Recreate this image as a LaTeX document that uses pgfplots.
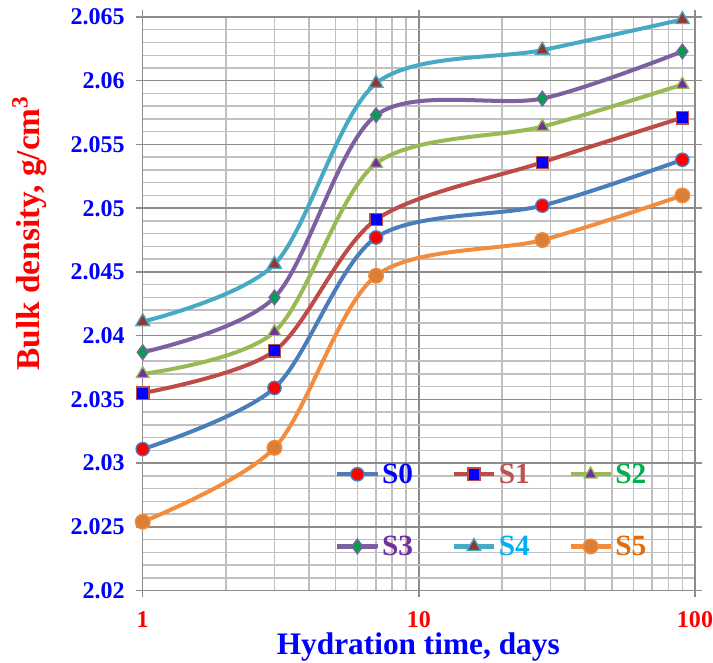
\documentclass[border=0pt]{standalone}
\usepackage{pgfplots}
\pgfplotsset{compat=1.18}
\usepackage{fontspec}
\setmainfont{Liberation Serif}
\definecolor{lS0}{HTML}{4A7EBB}
\definecolor{lS1}{HTML}{BE4B48}
\definecolor{lS2}{HTML}{98B954}
\definecolor{lS3}{HTML}{7D60A0}
\definecolor{lS4}{HTML}{46AAC5}
\definecolor{lS5}{HTML}{F38D3D}
\definecolor{mS3}{HTML}{00A050}
\definecolor{mS4}{HTML}{943634}
\definecolor{mS2}{HTML}{7030A0}
\definecolor{tS1}{HTML}{C0504D}
\definecolor{tS2}{HTML}{00B050}
\definecolor{tS3}{HTML}{7030A0}
\definecolor{tS4}{HTML}{00B0F0}
\definecolor{tS5}{HTML}{E46C0A}
\definecolor{majg}{HTML}{8C8C8C}
\definecolor{ming}{HTML}{BFBFBF}
\begin{document}
\begin{tikzpicture}
\useasboundingbox (-107pt,-54pt) rectangle (427.5pt,442.75pt);
\begin{axis}[
  at={(0,0)}, anchor=south west,
  scale only axis, width=414pt, height=430pt,
  xmode=log, log basis x=10,
  xmin=1, xmax=100, ymin=2.02, ymax=2.065,
  xtick={1,10,100}, xticklabels={1,10,100},
  minor xtick={2,3,4,5,6,7,8,9,20,30,40,50,60,70,80,90},
  ytick={2.02,2.025,2.03,2.035,2.04,2.045,2.05,2.055,2.06,2.065},
  yticklabels={2.02,2.025,2.03,2.035,2.04,2.045,2.05,2.055,2.06,2.065},
  minor y tick num=4,
  grid=both,
  major grid style={draw=majg, line width=1.1pt},
  minor grid style={draw=ming, line width=1.1pt},
  axis line style={draw=majg, line width=1.1pt},
  tick align=outside, major tick length=5pt, minor tick length=0pt,
  tick style={draw=majg, line width=1.1pt},
  /pgf/number format/assume math mode=true,
  tick label style={font=\bfseries\fontsize{18}{18}\selectfont},
  yticklabel style={text=blue, xshift=-5pt},
  xticklabel style={text=red, yshift=-7pt},
  xlabel={Hydration time, days},
  ylabel={Bulk density, g/cm\textsuperscript{3}},
  xlabel style={font=\bfseries\fontsize{23.5}{23.5}\selectfont, text=blue, at={(axis description cs:0.499,-0.099)}, anchor=center, inner sep=0pt},
  ylabel style={font=\bfseries\fontsize{25}{25}\selectfont, text=red, at={(axis description cs:-0.205,0.623)}, anchor=center},
  clip=false,
  every axis plot/.append style={smooth, tension=0.5, line width=3pt},
  legend columns=3,
  legend cell align=left,
  legend image code/.code={\draw[line width=3.2pt] (0pt,0pt) -- (30pt,0pt); \draw[mark repeat=2,mark phase=2] plot coordinates {(0pt,0pt)(15pt,0pt)(30pt,0pt)};},
  legend style={draw=none, fill=none, at={(axis description cs:0.348,0.222)}, anchor=north west,
    inner sep=0pt, row sep=38pt,
    font=\bfseries\fontsize{22}{22}\selectfont,
    nodes={inner xsep=2pt, inner ysep=0pt},
    /tikz/every even column/.append style={column sep=27pt}},
]
\addplot[color=lS0, mark=*, mark size=5pt, mark options={fill=red, draw=lS0, line width=1pt}]
  coordinates {(1,2.0311) (3,2.0359) (7,2.0477) (28,2.0502) (90,2.0538)};
\addlegendentry{\textcolor{blue}{S0}}
\addplot[color=lS1, mark=square*, mark size=4.6pt, mark options={fill=blue, draw=lS1, line width=1pt}]
  coordinates {(1,2.0355) (3,2.0388) (7,2.0491) (28,2.0536) (90,2.0571)};
\addlegendentry{\textcolor{tS1}{S1}}
\addplot[color=lS2, mark=triangle*, mark size=5.5pt, mark options={fill=mS2, draw=lS2, line width=1pt}]
  coordinates {(1,2.0370) (3,2.0403) (7,2.0535) (28,2.0564) (90,2.0597)};
\addlegendentry{\textcolor{tS2}{S2}}
\addplot[color=lS3, mark=diamond*, mark size=5.5pt, mark options={fill=mS3, draw=lS3, line width=1pt}]
  coordinates {(1,2.0387) (3,2.0430) (7,2.0573) (28,2.0586) (90,2.0623)};
\addlegendentry{\textcolor{tS3}{S3}}
\addplot[color=lS4, mark=triangle*, mark size=6pt, mark options={fill=mS4, draw=lS4, line width=1pt}]
  coordinates {(1,2.0411) (3,2.0456) (7,2.0598) (28,2.0624) (90,2.0648)};
\addlegendentry{\textcolor{tS4}{S4}}
\addplot[color=lS5, mark=*, mark size=5.5pt, mark options={fill=lS5!90!black, draw=lS5, line width=1pt}]
  coordinates {(1,2.0254) (3,2.0312) (7,2.0447) (28,2.0475) (90,2.0510)};
\addlegendentry{\textcolor{tS5}{S5}}
\end{axis}
\end{tikzpicture}
\end{document}
